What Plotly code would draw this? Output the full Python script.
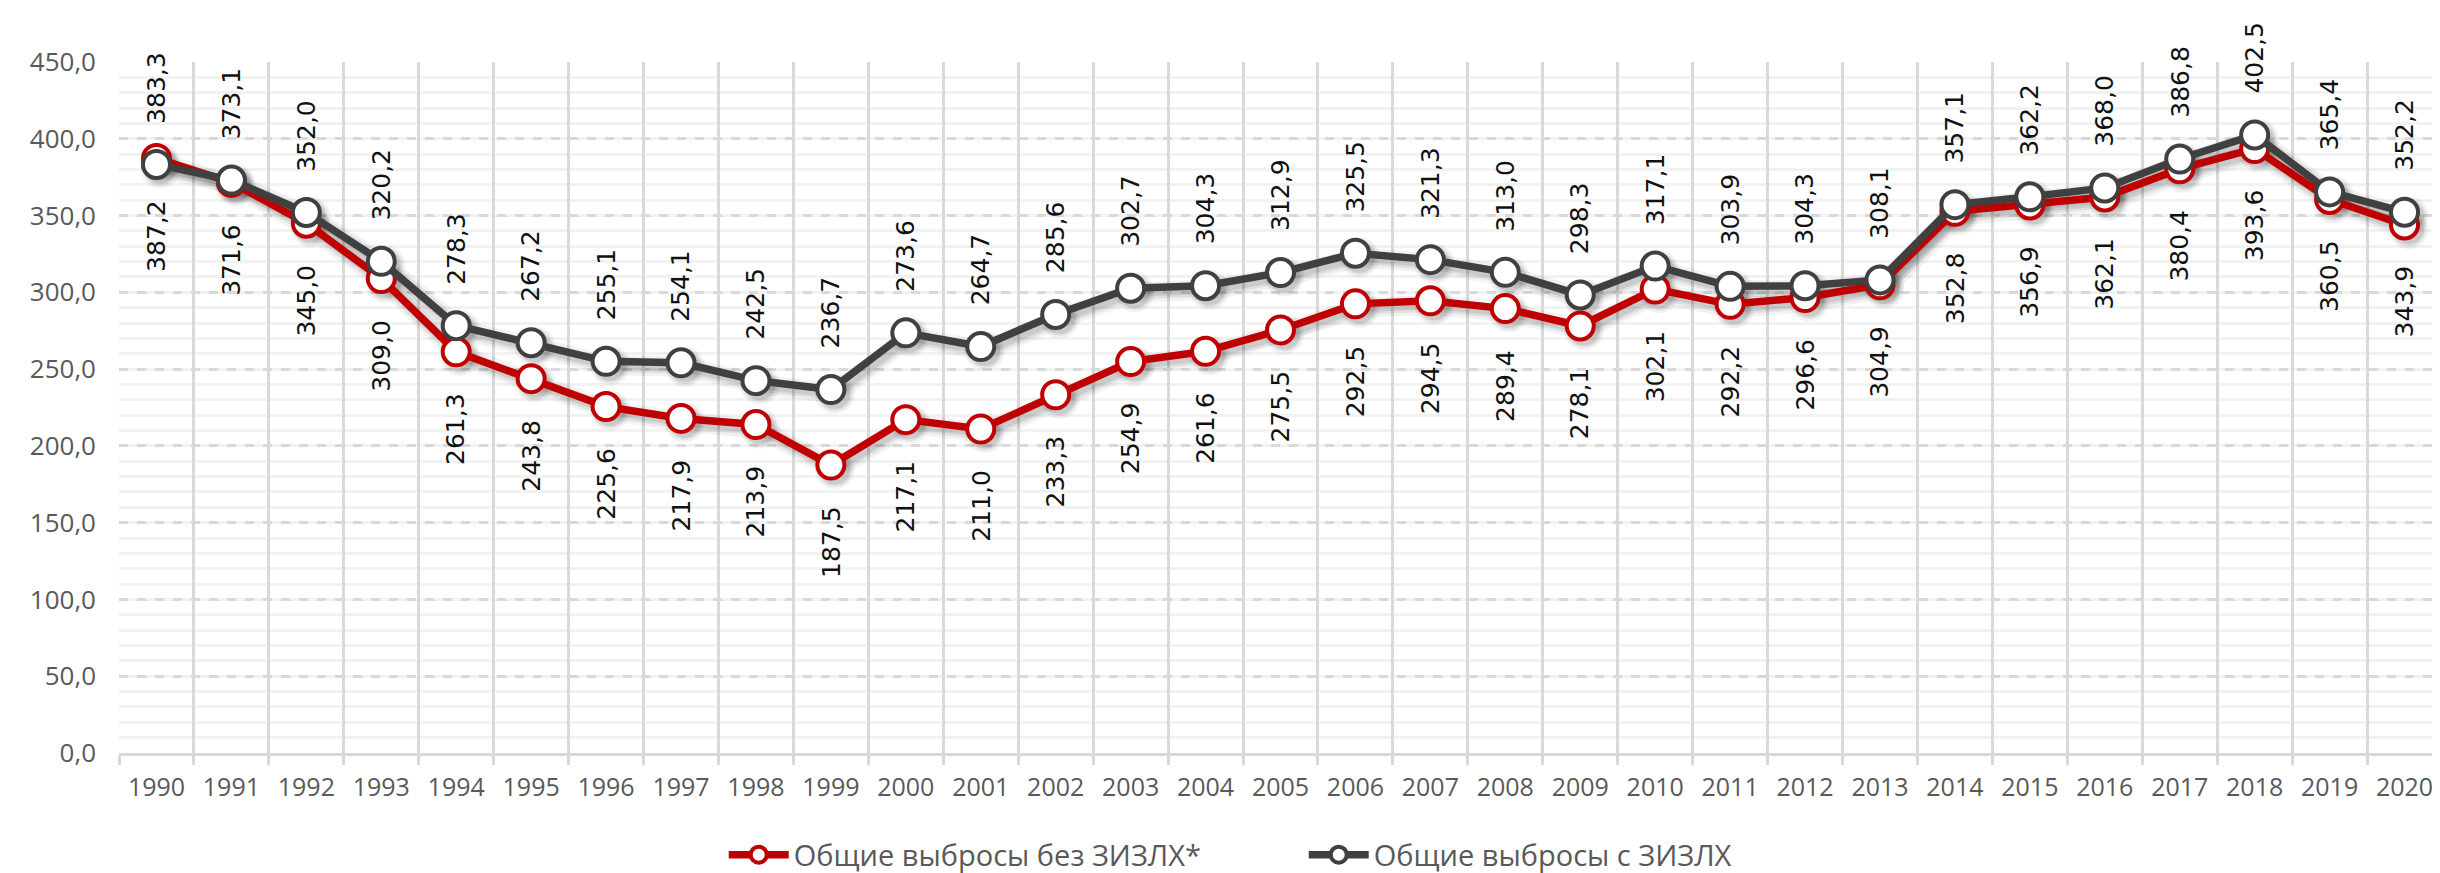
import plotly.graph_objects as go

years = [str(y) for y in range(1990, 2021)]
without_lulucf = [387.2, 371.6, 345.0, 309.0, 261.3, 243.8, 225.6, 217.9, 213.9, 187.5,
                  217.1, 211.0, 233.3, 254.9, 261.6, 275.5, 292.5, 294.5, 289.4, 278.1,
                  302.1, 292.2, 296.6, 304.9, 352.8, 356.9, 362.1, 380.4, 393.6, 360.5, 343.9]
with_lulucf = [383.3, 373.1, 352.0, 320.2, 278.3, 267.2, 255.1, 254.1, 242.5, 236.7,
               273.6, 264.7, 285.6, 302.7, 304.3, 312.9, 325.5, 321.3, 313.0, 298.3,
               317.1, 303.9, 304.3, 308.1, 357.1, 362.2, 368.0, 386.8, 402.5, 365.4, 352.2]
series_names = ["Общие выбросы без ЗИЗЛХ*", "Общие выбросы с ЗИЗЛХ"]
series_colors = ["#c00000", "#404040"]
y_tick_values = [0, 50, 100, 150, 200, 250, 300, 350, 400, 450]


def fmt(v):
    return f"{v:.1f}".replace(".", ",")


fig = go.Figure()

# soft shadows (drawn on the lower, slightly shifted axis pair)
for vals in (without_lulucf, with_lulucf):
    for w, ms, a in ((20, 40, 0.05), (14, 35, 0.07), (9, 31, 0.09)):
        fig.add_trace(go.Scatter(
            x=years, y=vals, xaxis="x", yaxis="y", mode="lines+markers",
            line=dict(color=f"rgba(0,0,0,{a})", width=w),
            marker=dict(size=ms, color=f"rgba(0,0,0,{a})", line=dict(width=0)),
            hoverinfo="skip", showlegend=False))

# main series
for name, vals, col in zip(series_names, (without_lulucf, with_lulucf), series_colors):
    fig.add_trace(go.Scatter(
        x=years, y=vals, xaxis="x2", yaxis="y2", name=name, mode="lines+markers",
        line=dict(color=col, width=7.5),
        marker=dict(size=27, color="white", line=dict(color=col, width=4)),
    ))

annotations = []
for vals, above in ((without_lulucf, False), (with_lulucf, True)):
    for i, v in enumerate(vals):
        annotations.append(dict(
            x=i, y=v, xref="x2", yref="y2", text=fmt(v), showarrow=False,
            textangle=-90, xanchor="center",
            yanchor="bottom" if above else "top",
            yshift=39 if above else -39,
            font=dict(family="DejaVu Sans", size=25, color="#111111")))

fig.update_layout(
    width=2440, height=873,
    margin=dict(l=111, r=6, t=54, b=128),
    paper_bgcolor="white", plot_bgcolor="white",
    separators=", ",
    annotations=annotations,
    xaxis=dict(type="category", categoryorder="array", categoryarray=years,
               range=[-0.5 - 0.053, 30.5 - 0.053], showgrid=False, showticklabels=False,
               showline=False, zeroline=False, ticks=""),
    yaxis=dict(range=[2.6, 452.6], showgrid=False, showticklabels=False,
               showline=False, zeroline=False, ticks=""),
    xaxis2=dict(type="category", categoryorder="array", categoryarray=years,
                overlaying="x", side="bottom", range=[-0.5, 30.5],
                tickson="boundaries", ticks="outside", ticklen=9, tickwidth=3,
                tickcolor="#d9d9d9", showgrid=True, gridcolor="#d9d9d9", gridwidth=3,
                showline=True, linecolor="#d9d9d9", linewidth=3, ticklabelstandoff=10,
                tickfont=dict(family="Open Sans", size=25, color="#595959")),
    yaxis2=dict(overlaying="y", side="left", range=[0, 450],
                tickmode="array", tickvals=y_tick_values, tickformat=".1f",
                showgrid=True, gridcolor="#d9d9d9", gridwidth=3, griddash="dash",
                minor=dict(dtick=10, showgrid=True, gridcolor="#f2f2f2", gridwidth=3,
                           griddash="solid"),
                zeroline=False, showline=False, ticks="", ticklabelstandoff=22,
                tickfont=dict(family="Open Sans", size=26, color="#595959")),
    legend=dict(orientation="h", x=0.51, xanchor="center", yref="container",
                y=0.03, yanchor="middle", itemwidth=60,
                entrywidth=505, entrywidthmode="pixels",
                font=dict(family="Open Sans", size=29, color="#595959")),
)

fig.write_html("out.html")
